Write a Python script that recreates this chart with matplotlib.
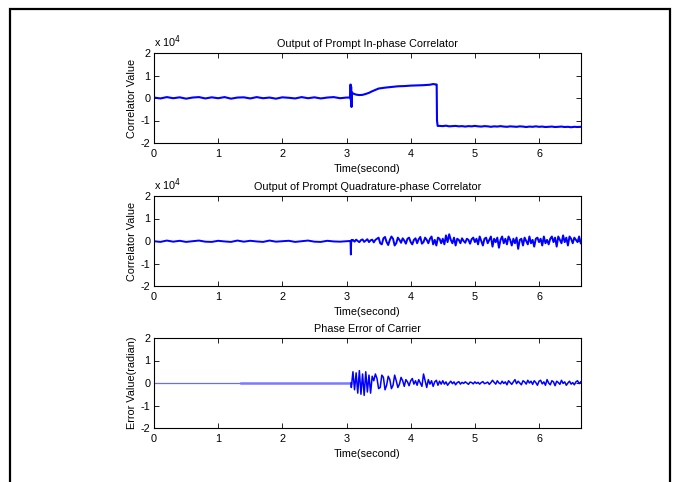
import numpy as np
import matplotlib.pyplot as plt
from matplotlib.patches import Rectangle

plt.rcParams['font.family'] = ['Liberation Sans', 'DejaVu Sans']
plt.rcParams['font.size'] = 7.8
plt.rcParams['axes.unicode_minus'] = False

# ---- data (correlators in units of 1e4) ----
# flat part before lock, sampled every 0.1 s from 0 to 3.0
i_pre = [0.02, -0.02, 0.04, -0.01, 0.03, -0.03, 0.02, 0.04, -0.02, 0.03, -0.01,
         0.04, -0.03, 0.02, 0.03, -0.02, 0.04, -0.01, 0.02, -0.03, 0.03, 0.01,
         -0.02, 0.04, -0.01, 0.03, -0.02, 0.02, 0.04, -0.01, 0.02]
q_pre = [-0.01, -0.04, 0.02, -0.03, 0.01, -0.04, -0.01, 0.02, -0.03, -0.04,
         0.01, -0.02, -0.04, 0.02, -0.03, 0.01, -0.02, -0.04, 0.02, -0.03,
         -0.01, 0.01, -0.04, -0.01, 0.02, -0.03, -0.04, 0.01, -0.02, -0.03, -0.01]

# in-phase around the spike and the rise
i_mid_t = [3.05, 3.06, 3.063, 3.068, 3.072, 3.078, 3.085, 3.1, 3.15, 3.2, 3.25,
           3.3, 3.35, 3.4, 3.45, 3.5, 3.6, 3.7, 3.8, 3.9, 4.0, 4.1, 4.2, 4.3,
           4.35, 4.4, 4.405, 4.41, 4.42]
i_mid = [0.02, 0.05, 0.6, -0.1, 0.5, -0.4, 0.25, 0.2, 0.15, 0.13, 0.14, 0.18,
         0.23, 0.3, 0.36, 0.42, 0.46, 0.49, 0.52, 0.53, 0.55, 0.56, 0.57, 0.59,
         0.62, 0.6, 0.6, -1.0, -1.24]
# in-phase after the sign flip, every 0.05 s from 4.45
i_post = [-1.24, -1.25, -1.23, -1.26, -1.25, -1.24, -1.26, -1.25, -1.27, -1.25,
          -1.26, -1.24, -1.26, -1.27, -1.25, -1.26, -1.28, -1.26, -1.27, -1.25,
          -1.27, -1.28, -1.26, -1.27, -1.28, -1.26, -1.27, -1.29, -1.27, -1.28,
          -1.26, -1.28, -1.27, -1.29, -1.28, -1.27, -1.29, -1.28, -1.27, -1.29,
          -1.28, -1.30, -1.28, -1.29, -1.28]

# quadrature spike
q_mid_t = [3.05, 3.063, 3.068, 3.072, 3.078, 3.085]
q_mid = [0.0, -0.05, -0.6, -0.1, 0.05, 0.02]
# quadrature after lock, every 0.025 s from 3.1
q_post = [0.05, -0.03, 0.06, 0.0, -0.05, 0.04, 0.07, -0.04, 0.02, 0.08, -0.05,
          0.03, 0.06, -0.06, 0.05, 0.1,
          0.15, -0.1, -0.15, 0.12, 0.18, -0.05, -0.18, 0.05, 0.2, 0.1, -0.2,
          -0.1, 0.15, 0.05, -0.08, 0.12, 0.02, -0.12, 0.1, 0.15, -0.05, -0.15,
          0.05, 0.12, -0.1, 0.08, 0.18, -0.12, -0.05, 0.15, 0.05, -0.1, 0.1,
          0.2, -0.15, 0.05, -0.2, 0.15, 0.1, -0.1,
          0.1, -0.15, 0.25, -0.05, 0.3, 0.05, -0.1, 0.15, -0.2, 0.1, 0.05, -0.1,
          0.12, 0.0, -0.08, 0.1, 0.05, -0.12, 0.08, 0.15, -0.05, 0.1, -0.15,
          0.2, 0.0, -0.2, 0.1, 0.15, -0.1, 0.05, 0.2, -0.25, 0.1, -0.05, 0.15,
          -0.3, 0.05, 0.2, -0.1, 0.1,
          -0.15, 0.2, 0.05, -0.2, 0.1, -0.1, 0.15, -0.35, 0.05, 0.1, -0.2, 0.15,
          0.0, -0.15, 0.2, -0.1, 0.05, -0.25, 0.1, 0.15, -0.05, 0.1, -0.2, 0.2,
          -0.1, 0.05, -0.15, 0.1, 0.2, -0.05, 0.15, -0.25, 0.2, 0.05, -0.1,
          0.25, -0.05, 0.15, -0.2, 0.2, 0.1, -0.1, 0.15, 0.05, -0.05, 0.2, -0.1]

# phase error (radian), zero before lock, every 0.025 s from 3.075
pe_post = [-0.2, 0.5, -0.3, 0.45, -0.45, 0.55, -0.5, 0.4, -0.55, 0.5, -0.4,
           0.35, -0.45, 0.3,
           0.1, 0.4, 0.2, -0.25, -0.2, 0.35, 0.25, -0.3, -0.1, 0.3, 0.15, -0.25,
           -0.1, 0.35, 0.1, -0.2, -0.05, 0.25, 0.1, -0.15,
           0.15, 0.05, -0.12, 0.1, 0.2, -0.05, 0.1, -0.1, 0.15, 0.0, -0.15, 0.4,
           0.1, -0.2, 0.15, -0.05, 0.1, -0.15, 0.05, 0.12, -0.1, 0.08, -0.05, 0.1,
           -0.05, 0.05, -0.1, 0.0, 0.08, -0.03, 0.05, -0.08, 0.02, 0.06, -0.05,
           0.03, -0.02, 0.05, 0.0, -0.06, 0.04, 0.02, -0.04, 0.05,
           -0.02, 0.03, -0.05, 0.02, 0.06, -0.03, 0.0, 0.04, -0.06, 0.02,
           0.12, 0.03, -0.05, 0.1, 0.0, -0.04, 0.08, -0.02, 0.05, -0.08,
           0.1, 0.02, -0.06, 0.05, 0.15, -0.03, 0.08, 0.0, -0.08, 0.1,
           0.05, -0.05, 0.12, 0.0, 0.08, -0.06, 0.1, 0.02, -0.1, 0.08,
           0.12, -0.04, 0.05, -0.1, 0.15, 0.0, -0.08, 0.1, 0.05, -0.12,
           0.08, 0.02, -0.06, 0.12, -0.02, 0.05, -0.1, 0.0, 0.08, -0.05,
           0.02, -0.08, 0.05, 0.1, -0.03, 0.05]
pe_pre_t = [0.0, 1.35, 3.07]
pe_pre = [0.0, 0.0, 0.0]

titles = ['Output of Prompt In-phase Correlator',
          'Output of Prompt Quadrature-phase Correlator',
          'Phase Error of Carrier']
ylabels = ['Correlator Value', 'Correlator Value', 'Error Value(radian)']

# ---- build time axes ----
t_pre = np.arange(len(i_pre)) * 0.1
i_post_t = 4.45 + np.arange(len(i_post)) * 0.05
q_post_t = 3.1 + np.arange(len(q_post)) * 0.025
pe_post_t = 3.075 + np.arange(len(pe_post)) * 0.025

i_t = np.concatenate([t_pre, i_mid_t, i_post_t])
i_v = np.concatenate([i_pre, i_mid, i_post])
q_t = np.concatenate([t_pre, q_mid_t, q_post_t])
q_v = np.concatenate([q_pre, q_mid, q_post])

fig = plt.figure(figsize=(6.78, 4.82), dpi=100)
fig.add_artist(Rectangle((10 / 678, -0.02), 660 / 678, 1 - 9 / 482 + 0.02,
                         transform=fig.transFigure, fill=False, lw=1.6,
                         edgecolor='k'))

W = 427 / 678
H = 90 / 482
ax1 = fig.add_axes([154 / 678, 1 - 143 / 482, W, H])
ax2 = fig.add_axes([154 / 678, 1 - 286 / 482, W, H])
ax3 = fig.add_axes([154 / 678, 1 - 428 / 482, W, H])

ax1.plot(i_t, i_v, color='#0000ff', lw=1.5)
ax2.plot(q_t, q_v, color='#0000ff', lw=1.4)
ax3.plot(pe_pre_t[:2], pe_pre[:2], color='#6a6aff', lw=0.9)
ax3.plot(pe_pre_t[1:], pe_pre[1:], color='#7a7aff', lw=1.8)
ax3.plot(np.concatenate([[3.07], pe_post_t]), np.concatenate([[0.0], pe_post]),
         color='#0000ff', lw=1.1)

for k, ax in enumerate([ax1, ax2, ax3]):
    ax.set_xlim(0, 6.654)
    ax.set_ylim(-2, 2)
    ax.set_xticks([0, 1, 2, 3, 4, 5, 6])
    ax.set_yticks([-2, -1, 0, 1, 2])
    ax.tick_params(direction='in', top=True, right=True, length=3.5,
                   width=0.6, labelsize=7.8)
    ax.tick_params(axis='x', pad=4.5)
    ax.tick_params(axis='y', pad=2.5)
    for s in ax.spines.values():
        s.set_linewidth(0.8)
    ax.set_title(titles[k], fontsize=7.8, pad=4)
    ax.set_ylabel(ylabels[k], fontsize=7.8, labelpad=3)
    ax.set_xlabel('Time(second)', fontsize=7.8, labelpad=3.5)
    if k < 2:
        ax.text(0.0, 1.03, r'x 10$^{4}$', transform=ax.transAxes,
                fontsize=7.8, va='bottom', ha='left')

plt.savefig('out.png', dpi=100)
